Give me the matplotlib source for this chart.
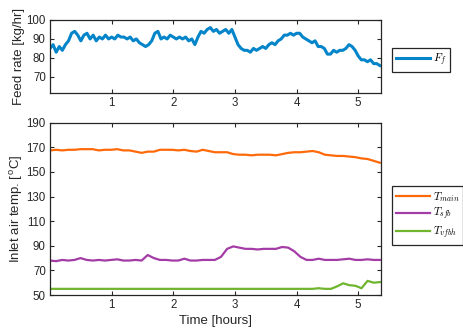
import numpy as np
import matplotlib
matplotlib.use("Agg")
import matplotlib.pyplot as plt

# ===============================
# data
# ===============================
t_feed = np.round(np.arange(0, 5.36, 0.05), 2)   # hours
feed_rate = [85, 87, 83, 86, 84, 87, 89, 93, 94, 92,
             89, 92, 93, 90, 92, 89, 91, 90, 92, 90,
             91, 90, 92, 91, 91, 90, 91, 89, 90, 88,
             87, 86, 87, 89, 93, 94, 90, 91, 90, 92,
             91, 90, 91, 90, 91, 89, 90, 87, 91, 94,
             93, 95, 96, 94, 95, 93, 94, 95, 93, 95,
             91, 87, 85, 84, 84, 83, 85, 84, 85, 86,
             85, 87, 88, 87, 89, 90, 92, 92, 93, 92,
             93, 93, 91, 90, 89, 88, 89, 86, 86, 85,
             82, 82, 84, 83, 84, 84, 85, 87, 86, 84,
             81, 79, 79, 78, 79, 77, 77, 76]

t_temp = np.linspace(0, 5.35, 55)
T_main = [167.5, 168, 167.5, 168, 168, 168.5, 168.5, 168.5, 167.5, 168,
          168, 168.5, 167.5, 167.5, 166.5, 165.5, 166.5, 166.5, 168, 168,
          168, 167.5, 168, 167, 166.5, 168, 167, 166, 166, 166,
          164.5, 164, 164, 163.5, 164, 164, 164, 163.5, 164.5, 165.5,
          166, 166, 166.5, 167, 166, 164, 163.5, 163, 163, 162.5,
          162, 161, 160.5, 159, 157.5]
T_sfb = [78, 77.5, 78.5, 78, 78.5, 80, 78.5, 78, 78.5, 78,
         78.5, 79, 78, 78, 78.5, 78, 82.5, 80, 78.5, 78.5,
         78, 78, 79.5, 78, 78, 78.5, 78.5, 78.5, 81, 87.5,
         89.5, 88.5, 87.5, 87.5, 87, 87.5, 87.5, 87.5, 89, 88.5,
         85.5, 81, 78.5, 78.5, 79.5, 78.5, 78.5, 78.5, 79, 79.5,
         78.5, 78.5, 79, 78.5, 78.5]
T_vfbh = [55, 55, 55, 55, 55, 55, 55, 55, 55, 55,
          55, 55, 55, 55, 55, 55, 55, 55, 55, 55,
          55, 55, 55, 55, 55, 55, 55, 55, 55, 55,
          55, 55, 55, 55, 55, 55, 55, 55, 55, 55,
          55, 55, 55, 55, 55.5, 55, 55, 57, 59.5, 58,
          57.5, 55.5, 61.5, 60, 60.5]

x_ticks = [1, 2, 3, 4, 5]
feed_ticks = [70, 80, 90, 100]
temp_ticks = [50, 70, 90, 110, 130, 150, 170, 190]

# ===============================
# style
# ===============================
plt.rcParams["font.family"] = ["Liberation Sans", "DejaVu Sans"]
plt.rcParams["mathtext.fontset"] = "cm"
dark = "#262626"

fig = plt.figure(figsize=(4.64, 3.33), dpi=100)
ax1 = fig.add_axes([0.1078, 0.7207, 0.7134, 0.2193])
ax2 = fig.add_axes([0.1078, 0.1141, 0.7134, 0.5174])


def style(ax):
    for s in ax.spines.values():
        s.set_color(dark)
        s.set_linewidth(0.9)
    ax.tick_params(direction="in", top=True, right=True, length=2.8,
                   width=0.8, colors=dark, labelsize=8.3, pad=3)
    ax.set_xlim(0, 5.37)
    ax.set_xticks(x_ticks)


ax1.plot(t_feed, feed_rate, color="#0585c9", lw=2.2, label="$F_f$")
ax1.set_ylim(61.5, 100)
ax1.set_yticks(feed_ticks)
style(ax1)
ax1.set_ylabel("Feed rate [kg/hr]", fontsize=9.5, color=dark)
ax1.yaxis.set_label_coords(-0.075, 0.5)

ax2.plot(t_temp, T_main, color="#fe6a0a", lw=1.6, label="$T_{main}$")
ax2.plot(t_temp, T_sfb, color="#a33ca6", lw=1.6, label="$T_{sfb}$")
ax2.plot(t_temp, T_vfbh, color="#6fb52e", lw=1.6, label="$T_{vfbh}$")
ax2.set_ylim(50, 190)
ax2.set_yticks(temp_ticks)
style(ax2)
ax2.set_ylabel("Inlet air temp. [$^\\mathregular{o}$C]", fontsize=9.5, color=dark)
ax2.yaxis.set_label_coords(-0.075, 0.5)
ax2.set_xlabel("Time [hours]", fontsize=9.5, color=dark, labelpad=3)

leg_kw = dict(loc="upper left", bbox_transform=fig.transFigure, borderaxespad=0,
              fancybox=False, edgecolor=dark, fontsize=8, handlelength=3.1,
              handletextpad=0.25, borderpad=0.35, labelspacing=0.2, framealpha=1)
l1 = ax1.legend(bbox_to_anchor=(391.7 / 464, 1 - 47.7 / 333), **leg_kw)
l2 = ax2.legend(bbox_to_anchor=(391.7 / 464, 1 - 186 / 333), **leg_kw)
for lg in (l1, l2):
    lg.get_frame().set_linewidth(0.9)

fig.savefig("out.png", dpi=100)
